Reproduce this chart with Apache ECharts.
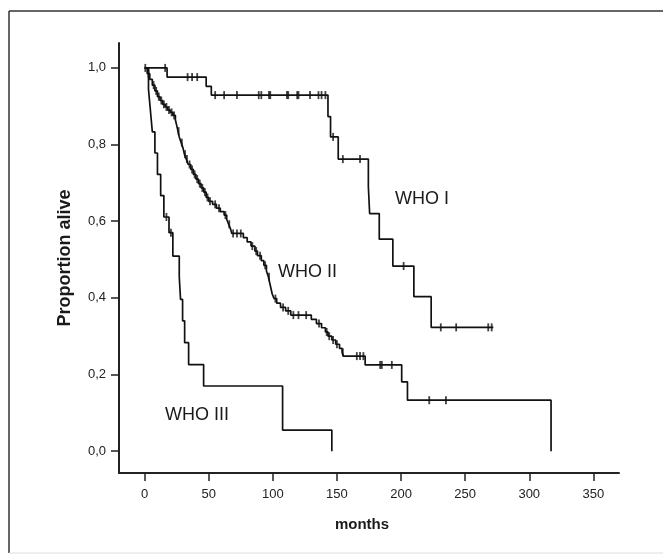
<!DOCTYPE html>
<html><head><meta charset="utf-8">
<script src="https://cdn.jsdelivr.net/npm/echarts@6/dist/echarts.min.js"></script>
<style>html,body{margin:0;padding:0;background:#fff}#c{width:663px;height:557px}</style>
</head><body><div id="c"></div>
<script>
// Tick labels
const xTicks = [0, 50, 100, 150, 200, 250, 300, 350];
const yTicks = [0, 0.2, 0.4, 0.6, 0.8, 1.0];

// WHO I: step times (months) and survival after each step
const whoITimes  = [0, 17.5, 48, 52, 143, 145, 151, 174.5, 175.5, 183, 193.6, 210, 223.5, 272];
const whoIValues = [1, 0.976, 0.952, 0.929, 0.873, 0.82, 0.762, 0.69, 0.62, 0.553, 0.483, 0.403, 0.323, 0.323];
const whoICensored = [0.5, 16, 33.5, 37, 41, 55, 62, 72, 89, 91, 97, 98, 111, 112, 119, 120, 129, 135.6, 138, 141, 147, 154.6, 168, 202, 231, 243, 268, 270.7];

// WHO II
const whoIITimes  = [0, 2, 4, 6, 8, 10, 12, 14, 16, 18, 20, 22, 24, 25, 26, 27, 28.5, 30, 31, 32.5, 34, 36, 38, 40, 42, 44, 46, 48, 50, 53, 56, 59, 62, 64, 65.5, 67, 68, 77, 80, 83, 86, 88, 91, 93, 95, 96.5, 97.5, 98.5, 99.5, 101, 103, 106, 110, 114, 130, 134, 138, 141, 143, 146, 149, 152, 154, 155, 172, 200.5, 205, 317];
const whoIIValues = [1, 0.985, 0.97, 0.955, 0.94, 0.925, 0.915, 0.905, 0.898, 0.89, 0.884, 0.876, 0.864, 0.85, 0.835, 0.82, 0.805, 0.79, 0.775, 0.762, 0.748, 0.735, 0.722, 0.71, 0.698, 0.687, 0.676, 0.662, 0.652, 0.644, 0.634, 0.625, 0.616, 0.605, 0.592, 0.58, 0.568, 0.557, 0.546, 0.535, 0.522, 0.51, 0.497, 0.485, 0.47, 0.455, 0.44, 0.425, 0.41, 0.398, 0.386, 0.375, 0.366, 0.355, 0.344, 0.333, 0.322, 0.311, 0.3, 0.29, 0.279, 0.268, 0.258, 0.248, 0.225, 0.181, 0.133, 0];
const whoIICensored = [3, 7, 9, 11, 13, 15, 17, 19, 21, 23, 26.5, 29, 31.5, 33, 35, 37, 39, 41, 43, 45, 47, 49, 51, 55, 58, 63, 66, 69, 72, 75, 84, 87, 90, 94, 97, 102, 108, 112, 116, 120, 126, 136, 142, 144, 147, 150, 154.6, 165.5, 168, 170.6, 183.7, 185, 192.8, 222, 235];

// WHO III
const whoIIITimes  = [0, 3, 4.5, 6, 8, 10, 12.5, 15, 19, 22, 27, 28, 29.6, 31.2, 34.3, 46, 107.6, 146];
const whoIIIValues = [1, 0.944, 0.889, 0.833, 0.778, 0.722, 0.667, 0.611, 0.57, 0.509, 0.455, 0.396, 0.34, 0.283, 0.226, 0.17, 0.055, 0];
const whoIIICensored = [17, 20.5];

const groupLabels = ['WHO I', 'WHO II', 'WHO III'];

function stepPairs(t, v) { return t.map((x, i) => [x, v[i]]); }
function censorPairs(c, t, v) {
  return c.map(ct => {
    let s = v[0];
    for (let i = 0; i < t.length; i++) if (t[i] <= ct) s = v[i];
    return [ct, s];
  });
}
const fmt = v => v.toFixed(1).replace('.', ',');
const lineCol = '#111';
const groups = [
  [whoITimes, whoIValues, whoICensored],
  [whoIITimes, whoIIValues, whoIICensored],
  [whoIIITimes, whoIIIValues, whoIIICensored]
];
const series = [];
groups.forEach((g, i) => {
  series.push({type: 'line', name: groupLabels[i], step: 'end', data: stepPairs(g[0], g[1]), showSymbol: false,
    lineStyle: {color: lineCol, width: 1.7}, silent: true, z: 2});
  series.push({type: 'scatter', data: censorPairs(g[2], g[0], g[1]), symbol: 'rect', symbolSize: [1.8, 8],
    itemStyle: {color: lineCol}, silent: true, z: 3});
});

const chart = echarts.init(document.getElementById('c'), null, {renderer: 'canvas'});
chart.setOption({
  animation: false,
  backgroundColor: '#fff',
  grid: {left: 119, right: 44, top: 43, bottom: 84},
  xAxis: {
    type: 'value', min: -20, max: 370,
    name: 'months', nameLocation: 'middle', nameGap: 44,
    nameTextStyle: {fontFamily: 'Liberation Sans', fontWeight: 'bold', fontSize: 15, color: '#1a1a1a', padding: [0, 14, 0, 0]},
    axisLine: {show: true, onZero: false, lineStyle: {color: '#222', width: 2}},
    axisTick: {show: true, length: 8, customValues: xTicks, lineStyle: {color: '#222', width: 1.5}},
    axisLabel: {customValues: xTicks, margin: 15, fontFamily: 'Liberation Sans', fontSize: 13, color: '#222'},
    splitLine: {show: false}
  },
  yAxis: {
    type: 'value', min: -0.057, max: 1.065,
    name: 'Proportion alive', nameLocation: 'middle', nameGap: 45, nameRotate: 90,
    nameTextStyle: {fontFamily: 'Liberation Sans', fontWeight: 'bold', fontSize: 18, color: '#1a1a1a'},
    axisLine: {show: true, onZero: false, lineStyle: {color: '#222', width: 2}},
    axisTick: {show: true, length: 8, customValues: yTicks, lineStyle: {color: '#222', width: 1.5}},
    axisLabel: {customValues: yTicks, margin: 13, formatter: fmt, fontFamily: 'Liberation Sans', fontSize: 13, color: '#222'},
    splitLine: {show: false}
  },
  graphic: [
    {type: 'line', shape: {x1: 9, y1: 11, x2: 663, y2: 11}, style: {stroke: '#333', lineWidth: 1.5}},
    {type: 'line', shape: {x1: 9, y1: 11, x2: 9, y2: 553}, style: {stroke: '#333', lineWidth: 1.5}},
    {type: 'line', shape: {x1: 9, y1: 553, x2: 663, y2: 553}, style: {stroke: '#ddd', lineWidth: 1}},
    {type: 'text', left: 395, top: 190, style: {text: groupLabels[0], font: '18px "Liberation Sans"', fill: '#1a1a1a'}},
    {type: 'text', left: 278, top: 263, style: {text: groupLabels[1], font: '18px "Liberation Sans"', fill: '#1a1a1a'}},
    {type: 'text', left: 165, top: 406, style: {text: groupLabels[2], font: '18px "Liberation Sans"', fill: '#1a1a1a'}}
  ],
  series: series
});
</script>
</body></html>
